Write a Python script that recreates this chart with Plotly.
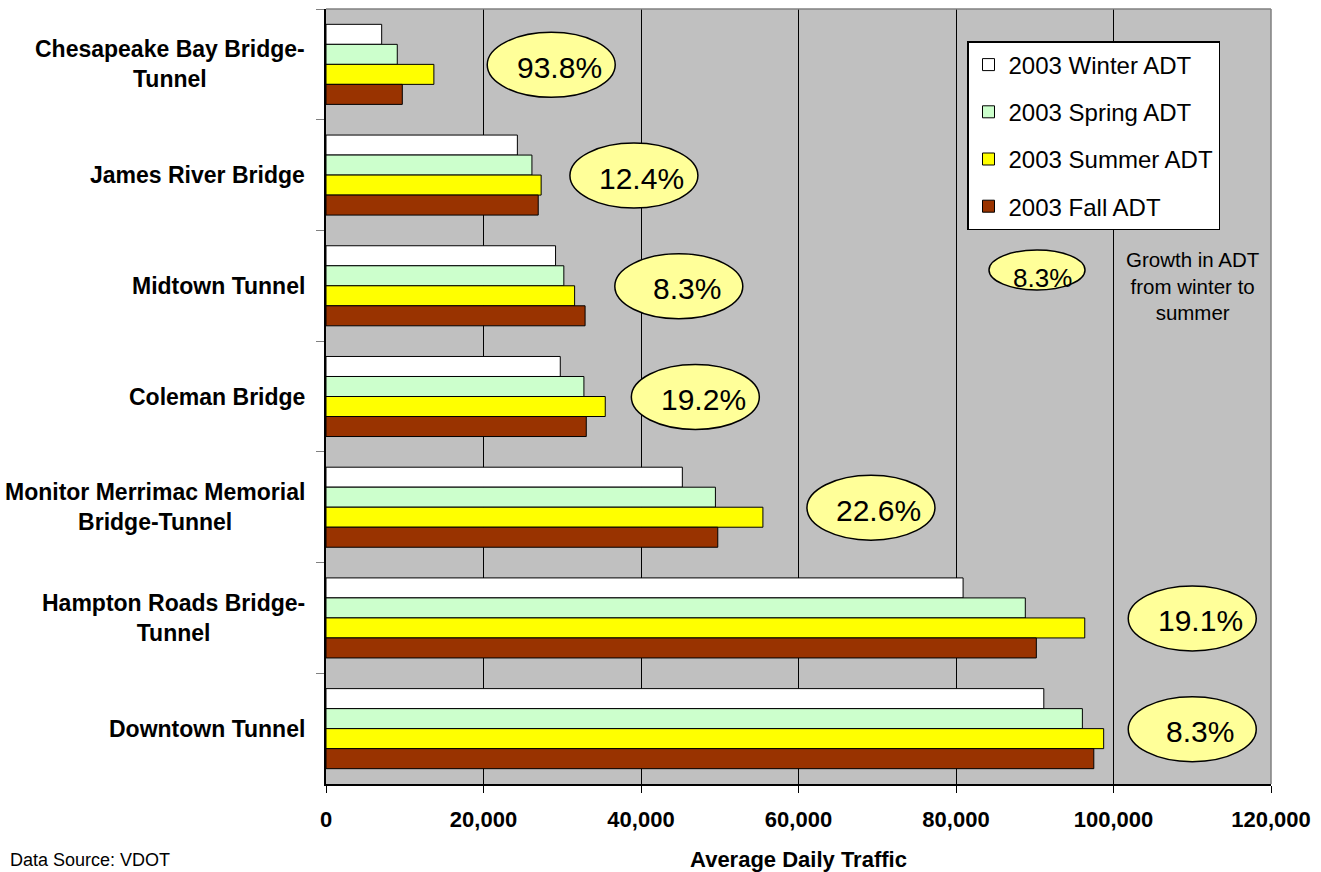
import plotly.graph_objects as go

# Crossings (top to bottom) and 2003 seasonal average daily traffic
crossings = [
    "Chesapeake Bay Bridge-Tunnel",
    "James River Bridge",
    "Midtown Tunnel",
    "Coleman Bridge",
    "Monitor Merrimac Memorial Bridge-Tunnel",
    "Hampton Roads Bridge-Tunnel",
    "Downtown Tunnel",
]
crossing_labels = [
    "Chesapeake Bay Bridge-<br>Tunnel",
    "James River Bridge",
    "Midtown Tunnel",
    "Coleman Bridge",
    "Monitor Merrimac Memorial<br>Bridge-Tunnel",
    "Hampton Roads Bridge-<br>Tunnel",
    "Downtown Tunnel",
]
winter_adt = [7070, 24300, 29150, 29750, 45250, 80900, 91150]
spring_adt = [9050, 26150, 30200, 32750, 49450, 88800, 96050]
summer_adt = [13700, 27320, 31570, 35460, 55480, 96350, 98750]
fall_adt = [9690, 26950, 32900, 33050, 49750, 90200, 97500]

series_names = ["2003 Winter ADT", "2003 Spring ADT", "2003 Summer ADT", "2003 Fall ADT"]
series_values = [winter_adt, spring_adt, summer_adt, fall_adt]
series_colors = ["#FFFFFF", "#CCFFCC", "#FFFF00", "#993300"]

# Where each growth callout bubble sits along the traffic axis
callout_x = [28600, 39100, 44800, 46900, 69200, 110000, 110000]

FONT = "Liberation Sans, Arial, sans-serif"

fig = go.Figure()
for name, vals, color in zip(series_names, series_values, series_colors):
    fig.add_trace(go.Bar(
        y=crossings, x=vals, name=name, orientation="h",
        legendgroup=name,
        marker=dict(color=color, line=dict(color="black", width=1)),
    ))

shapes = []
annotations = []

# Category labels, centred line-by-line and right aligned against the axis
for cat, lab in zip(crossings, crossing_labels):
    annotations.append(dict(
        xref="paper", yref="y", x=0, y=cat, xanchor="right", yanchor="middle",
        xshift=-19, text=lab, align="center", showarrow=False,
        font=dict(family=FONT, size=23, color="black", weight="bold"),
    ))

# Winter-to-summer growth bubbles
for cat, w, s, cx in zip(crossings, winter_adt, summer_adt, callout_x):
    growth = (s / w - 1) * 100
    shapes.append(dict(
        type="circle", xref="x", yref="y",
        xsizemode="pixel", ysizemode="pixel",
        xanchor=cx, yanchor=cat,
        x0=-64, x1=64, y0=-33, y1=32,
        fillcolor="#FFFF99", line=dict(color="black", width=1.5), layer="above",
    ))
    annotations.append(dict(
        xref="x", yref="y", x=cx, y=cat, text=f"{growth:.1f}%",
        xanchor="center", yanchor="middle",
        showarrow=False, xshift=8, yshift=-3,
        font=dict(family=FONT, size=30, color="black"),
    ))

# Key for the bubbles
def px_x(px):
    return (px - 326) / 945

def px_y(py):
    return 1 - (py - 9) / 775

shapes.append(dict(
    type="circle", xref="paper", yref="paper",
    x0=px_x(989), x1=px_x(1085), y0=px_y(290), y1=px_y(250),
    fillcolor="#FFFF99", line=dict(color="black", width=1.5), layer="above",
))
annotations.append(dict(
    xref="paper", yref="paper", x=px_x(1042), y=px_y(278), text="8.3%",
    xanchor="center", yanchor="middle",
    showarrow=False, font=dict(family=FONT, size=26, color="black"),
))
annotations.append(dict(
    xref="paper", yref="paper", x=px_x(1193), y=px_y(286),
    xanchor="center", yanchor="middle",
    text="Growth in ADT<br>from winter to<br>summer", align="center",
    showarrow=False, font=dict(family=FONT, size=20.5, color="black"),
))

# Source note
annotations.append(dict(
    xref="paper", yref="paper", x=px_x(8), y=px_y(860), xanchor="left", yanchor="middle",
    text="Data Source: VDOT", showarrow=False,
    font=dict(family=FONT, size=18, color="black"),
))

# Grey plot-area border on the top and right
shapes.append(dict(type="line", xref="paper", yref="paper", x0=0, x1=1, y0=1, y1=1,
                   line=dict(color="#808080", width=1.5), layer="above"))
shapes.append(dict(type="line", xref="paper", yref="paper", x0=1, x1=1, y0=0, y1=1,
                   line=dict(color="#808080", width=1.5), layer="above"))

fig.update_layout(
    width=1321, height=872,
    margin=dict(l=326, r=50, t=9, b=88, pad=0, autoexpand=False),
    paper_bgcolor="white", plot_bgcolor="#C0C0C0",
    barmode="group", bargap=0.277, bargroupgap=0,
    font=dict(family=FONT, color="black"),
    shapes=shapes, annotations=annotations,
    legend=dict(
        x=px_x(967), y=px_y(41), xanchor="left", yanchor="top",
        bgcolor="white", bordercolor="black", borderwidth=1.5,
        font=dict(family=FONT, size=24, color="black"),
        traceorder="grouped", tracegroupgap=13,
    ),
    xaxis=dict(
        range=[0, 120000], dtick=20000, tickformat=",",
        automargin=False,
        showgrid=True, gridcolor="black", gridwidth=1,
        showline=True, linecolor="black", linewidth=2,
        ticks="outside", ticklen=7, tickcolor="black",
        ticklabelstandoff=8,
        zeroline=False,
        tickfont=dict(family=FONT, size=22, color="black", weight="bold"),
        title=dict(text="Average Daily Traffic", standoff=21,
                   font=dict(family=FONT, size=22, color="black", weight="bold")),
    ),
    yaxis=dict(
        type="category", categoryorder="array", categoryarray=crossings,
        range=[6.5, -0.5], showticklabels=False, automargin=False,
        ticks="outside", tickson="boundaries", ticklen=8, tickcolor="#808080",
        showline=True, linecolor="black", linewidth=1.5,
        showgrid=False, zeroline=False,
    ),
)

fig.write_html("out.html")
